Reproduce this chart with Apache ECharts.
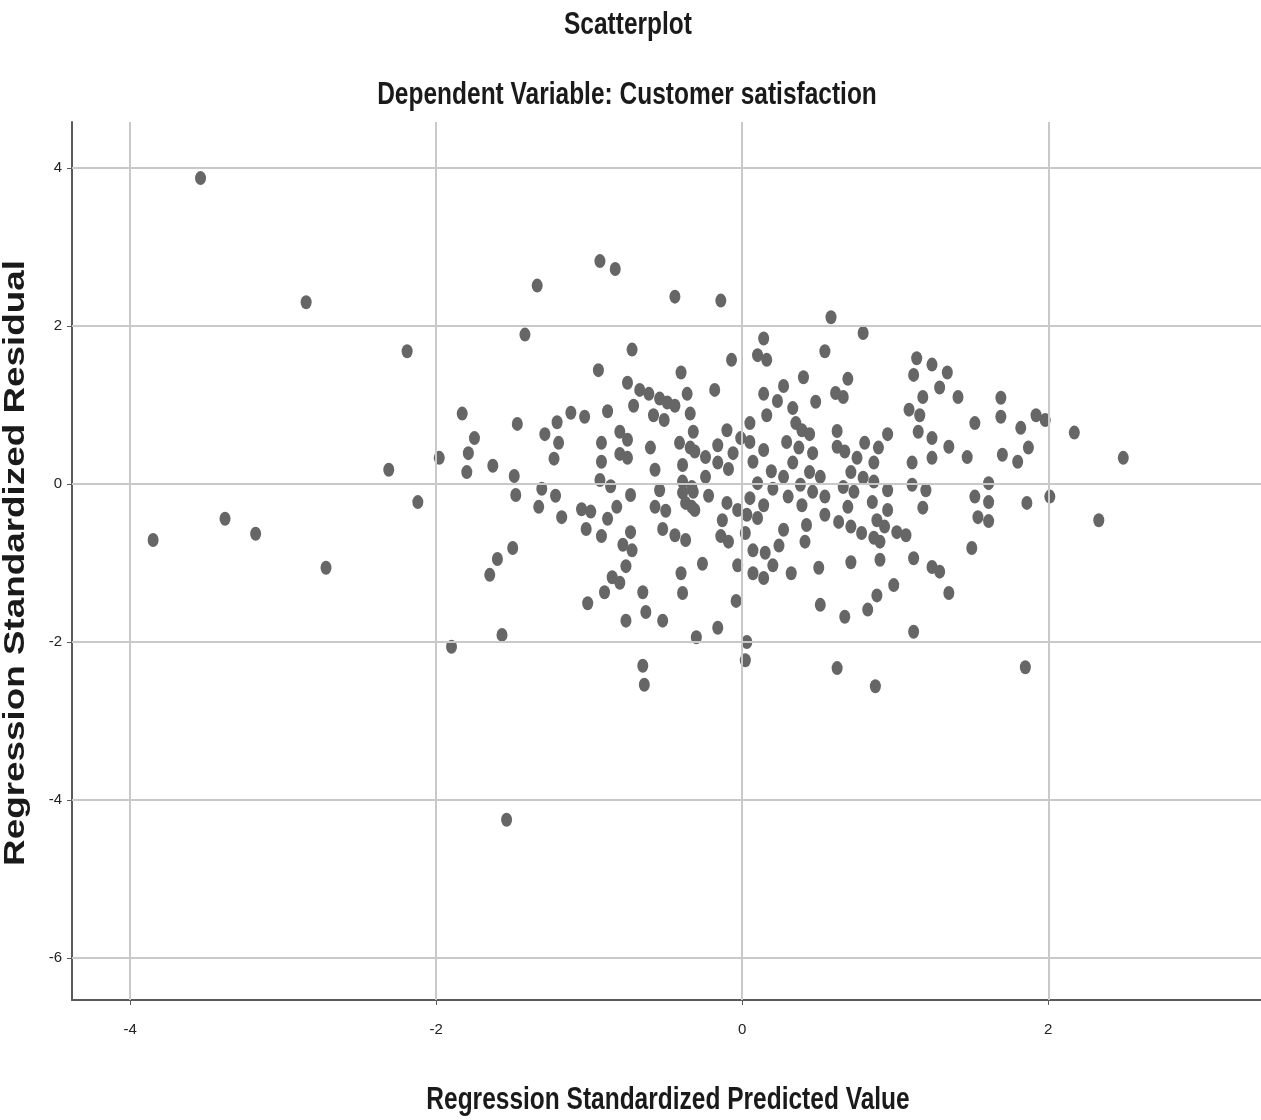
<!DOCTYPE html>
<html>
<head>
<meta charset="utf-8">
<script src="https://cdn.jsdelivr.net/npm/echarts@6/dist/echarts.min.js"></script>
<style>
  html, body { margin: 0; padding: 0; background: #ffffff; }
  #chart { width: 1261px; height: 1120px; }
</style>
</head>
<body>
<div id="chart"></div>
<script>
// Text
const titleText = 'Scatterplot';
const subtitleText = 'Dependent Variable: Customer satisfaction';
const xAxisName = 'Regression Standardized Predicted Value';
const yAxisName = 'Regression Standardized Residual';

// Tick labels
const xTicks = [-4, -2, 0, 2];
const yTicks = [4, 2, 0, -2, -4, -6];

// Axis extents
const xRange = [-4.38, 3.39];
const yRange = [-6.53, 4.58];

// [standardized predicted value, standardized residual]
const points = [
  [-3.54, 3.87], [-3.85, -0.71], [-3.38, -0.44], [-3.18, -0.63], [-2.85, 2.30],
  [-2.72, -1.06], [-2.19, 1.68], [-2.31, 0.18], [-2.12, -0.23], [-1.98, 0.33],
  [-1.90, -2.06], [-1.54, -4.25], [-1.83, 0.89], [-1.75, 0.58], [-1.79, 0.39],
  [-1.80, 0.15], [-1.63, 0.23], [-1.49, 0.10], [-1.48, -0.14], [-1.31, -0.06],
  [-1.33, -0.29], [-1.22, -0.15], [-1.18, -0.42], [-1.29, 0.63], [-1.20, 0.52],
  [-1.23, 0.32], [-1.47, 0.76], [-1.50, -0.81], [-1.60, -0.95], [-1.65, -1.15],
  [-1.57, -1.91], [-1.34, 2.51], [-1.42, 1.89], [-1.21, 0.78], [-1.12, 0.90],
  [-1.03, 0.85], [-0.93, 2.82], [-0.83, 2.72], [-0.44, 2.37], [-0.14, 2.32],
  [-0.72, 1.70], [-0.94, 1.44], [-0.40, 1.41], [-0.07, 1.57], [0.14, 1.84],
  [0.10, 1.63], [0.16, 1.57], [-0.75, 1.28], [-0.67, 1.19], [-0.61, 1.14],
  [-0.71, 0.99], [-0.54, 1.08], [-0.49, 1.03], [-0.44, 0.99], [-0.36, 1.14],
  [-0.18, 1.19], [-0.88, 0.92], [-0.58, 0.87], [-0.51, 0.81], [-0.34, 0.89],
  [-0.80, 0.66], [-0.32, 0.66], [-0.10, 0.68], [0.05, 0.77], [0.14, 1.14],
  [0.16, 0.87], [0.58, 2.11], [0.79, 1.91], [0.54, 1.68], [0.40, 1.35],
  [0.27, 1.24], [0.23, 1.05], [0.33, 0.96], [0.48, 1.04], [0.61, 1.15],
  [0.69, 1.33], [0.66, 1.10], [0.35, 0.77], [0.39, 0.68], [0.44, 0.63],
  [0.62, 0.67], [0.95, 0.63], [1.15, 0.66], [1.14, 1.59], [1.12, 1.38],
  [1.24, 1.51], [1.34, 1.41], [1.29, 1.22], [1.18, 1.10], [1.09, 0.94],
  [1.16, 0.87], [1.41, 1.10], [1.69, 1.09], [1.69, 0.85], [1.52, 0.77],
  [1.82, 0.71], [1.92, 0.87], [1.98, 0.81], [2.17, 0.65],
  [-0.75, 0.56], [-0.92, 0.52], [-0.80, 0.38], [-0.75, 0.33], [-0.92, 0.28],
  [-0.60, 0.46], [-0.57, 0.18], [-0.93, 0.05], [-0.86, -0.03], [-0.73, -0.14],
  [-0.54, -0.08], [-1.05, -0.32], [-0.99, -0.35], [-0.82, -0.29], [-0.88, -0.44],
  [-0.57, -0.29], [-0.50, -0.34], [-1.02, -0.57], [-0.92, -0.66], [-0.73, -0.61],
  [-0.52, -0.57], [-0.44, -0.65], [-0.37, -0.71], [-0.78, -0.77], [-0.72, -0.84],
  [-0.41, 0.52], [-0.34, 0.46], [-0.31, 0.41], [-0.39, 0.24], [-0.24, 0.34],
  [-0.16, 0.49], [-0.16, 0.27], [-0.09, 0.19], [-0.06, 0.39], [-0.01, 0.58],
  [0.05, 0.53], [0.07, 0.28], [0.14, 0.43], [0.19, 0.16], [-0.24, 0.09],
  [-0.39, 0.03], [-0.33, -0.04], [-0.39, -0.11], [-0.32, -0.10], [-0.22, -0.15],
  [-0.37, -0.24], [-0.33, -0.29], [-0.31, -0.33], [-0.10, -0.24], [-0.03, -0.33],
  [0.05, -0.18], [0.10, 0.01], [0.20, -0.06], [-0.13, -0.46], [0.03, -0.39],
  [0.10, -0.43], [0.14, -0.27], [-0.14, -0.66], [-0.09, -0.73], [0.02, -0.62],
  [0.07, -0.84], [0.15, -0.87], [-0.26, -1.01],
  [0.29, 0.53], [0.37, 0.46], [0.46, 0.39], [0.33, 0.27], [0.27, 0.09],
  [0.44, 0.15], [0.51, 0.09], [0.38, -0.01], [0.46, -0.10], [0.30, -0.16],
  [0.54, -0.16], [0.39, -0.27], [0.62, 0.47], [0.67, 0.41], [0.80, 0.52],
  [0.89, 0.46], [0.75, 0.33], [0.86, 0.27], [0.71, 0.15], [0.79, 0.08],
  [0.86, 0.03], [0.66, -0.04], [0.73, -0.10], [0.69, -0.29], [0.85, -0.23],
  [0.95, -0.08], [0.95, -0.33], [0.54, -0.39], [0.63, -0.48], [0.71, -0.54],
  [0.88, -0.46], [0.93, -0.54], [1.01, -0.61], [1.07, -0.65], [0.78, -0.62],
  [0.86, -0.68], [0.90, -0.73], [0.42, -0.52], [0.27, -0.58], [0.41, -0.73],
  [0.24, -0.78], [1.11, 0.27], [1.11, -0.01], [1.20, -0.08], [1.18, -0.30],
  [1.24, 0.58], [1.24, 0.33], [1.35, 0.47], [1.47, 0.34], [1.12, -0.94],
  [0.71, -0.99], [0.90, -0.96],
  [1.70, 0.37], [1.80, 0.28], [1.87, 0.46], [2.49, 0.33], [1.61, 0.01],
  [1.52, -0.16], [1.61, -0.23], [1.54, -0.42], [1.61, -0.47], [1.86, -0.24],
  [2.01, -0.16], [2.33, -0.46], [1.50, -0.81],
  [-0.76, -1.04], [-0.85, -1.18], [-0.80, -1.25], [-0.90, -1.37], [-1.01, -1.51],
  [-0.65, -1.37], [-0.63, -1.62], [-0.76, -1.73], [-0.52, -1.73], [-0.40, -1.13],
  [-0.39, -1.38], [-0.04, -1.48], [-0.16, -1.82], [-0.30, -1.94], [0.03, -2.00],
  [0.02, -2.23], [-0.65, -2.30], [-0.64, -2.54], [-0.03, -1.03], [0.07, -1.13],
  [0.14, -1.19],
  [0.20, -1.03], [0.32, -1.13], [0.50, -1.06], [1.24, -1.05], [1.29, -1.11],
  [1.35, -1.38], [0.99, -1.28], [0.88, -1.41], [0.82, -1.59], [0.51, -1.53],
  [0.67, -1.68], [1.12, -1.87], [0.62, -2.33], [0.87, -2.56], [1.85, -2.32]
];

const sansFont = "'Liberation Sans', Arial, sans-serif";
const textColor = '#1a1a1a';
const gridColor = '#c9c9c9';
const axisColor = '#5a5a5a';
// Headings are drawn with a slight vertical stretch
const stretch = 1.27;

// Reference lines at each labelled tick
const gridLines = []
  .concat(xTicks.map(v => ({ xAxis: v })))
  .concat(yTicks.map(v => ({ yAxis: v })));

function heading(text, x, y, size, rotated) {
  return {
    type: 'text',
    x: x,
    y: y,
    rotation: rotated ? Math.PI / 2 : 0,
    scaleX: rotated ? stretch : 1,
    scaleY: rotated ? 1 : stretch,
    silent: true,
    style: {
      text: text,
      fill: textColor,
      font: 'bold ' + size + 'px ' + sansFont,
      textAlign: 'center',
      textVerticalAlign: 'middle'
    }
  };
}

const chart = echarts.init(document.getElementById('chart'), null, { renderer: 'canvas' });

chart.setOption({
  backgroundColor: '#ffffff',
  animation: false,
  graphic: [
    heading(titleText, 628, 25, 24.5, false),
    heading(subtitleText, 627, 95, 24.5, false),
    heading(xAxisName, 668, 1100, 24.5, false),
    heading(yAxisName, 16, 563, 29, true)
  ],
  grid: { left: 72, right: 0, top: 122, bottom: 120, containLabel: false, outerBoundsMode: 'none' },
  xAxis: {
    type: 'value',
    min: xRange[0],
    max: xRange[1],
    axisLine: { show: true, onZero: false, lineStyle: { color: axisColor, width: 2 } },
    axisTick: { show: true, customValues: xTicks, length: 5, lineStyle: { color: axisColor } },
    axisLabel: {
      customValues: xTicks,
      margin: 22,
      fontFamily: sansFont,
      fontSize: 15,
      color: '#222222'
    },
    splitLine: { show: false }
  },
  yAxis: {
    type: 'value',
    min: yRange[0],
    max: yRange[1],
    axisLine: { show: true, onZero: false, lineStyle: { color: axisColor, width: 2 } },
    axisTick: { show: true, customValues: yTicks, length: 5, lineStyle: { color: axisColor } },
    axisLabel: {
      customValues: yTicks,
      margin: 10,
      fontFamily: sansFont,
      fontSize: 15,
      color: '#222222'
    },
    splitLine: { show: false }
  },
  series: [
    {
      type: 'line',
      data: [],
      z: 1,
      markLine: {
        silent: true,
        symbol: 'none',
        label: { show: false },
        lineStyle: { color: gridColor, width: 2, type: 'solid' },
        data: gridLines
      }
    },
    {
      type: 'scatter',
      z: 3,
      data: points,
      symbol: 'path://M50,0A50,50,0,1,1,50,100A50,50,0,1,1,50,0Z',
      symbolSize: [11, 14],
      itemStyle: { color: '#666666', opacity: 1 }
    }
  ]
});
</script>
</body>
</html>
